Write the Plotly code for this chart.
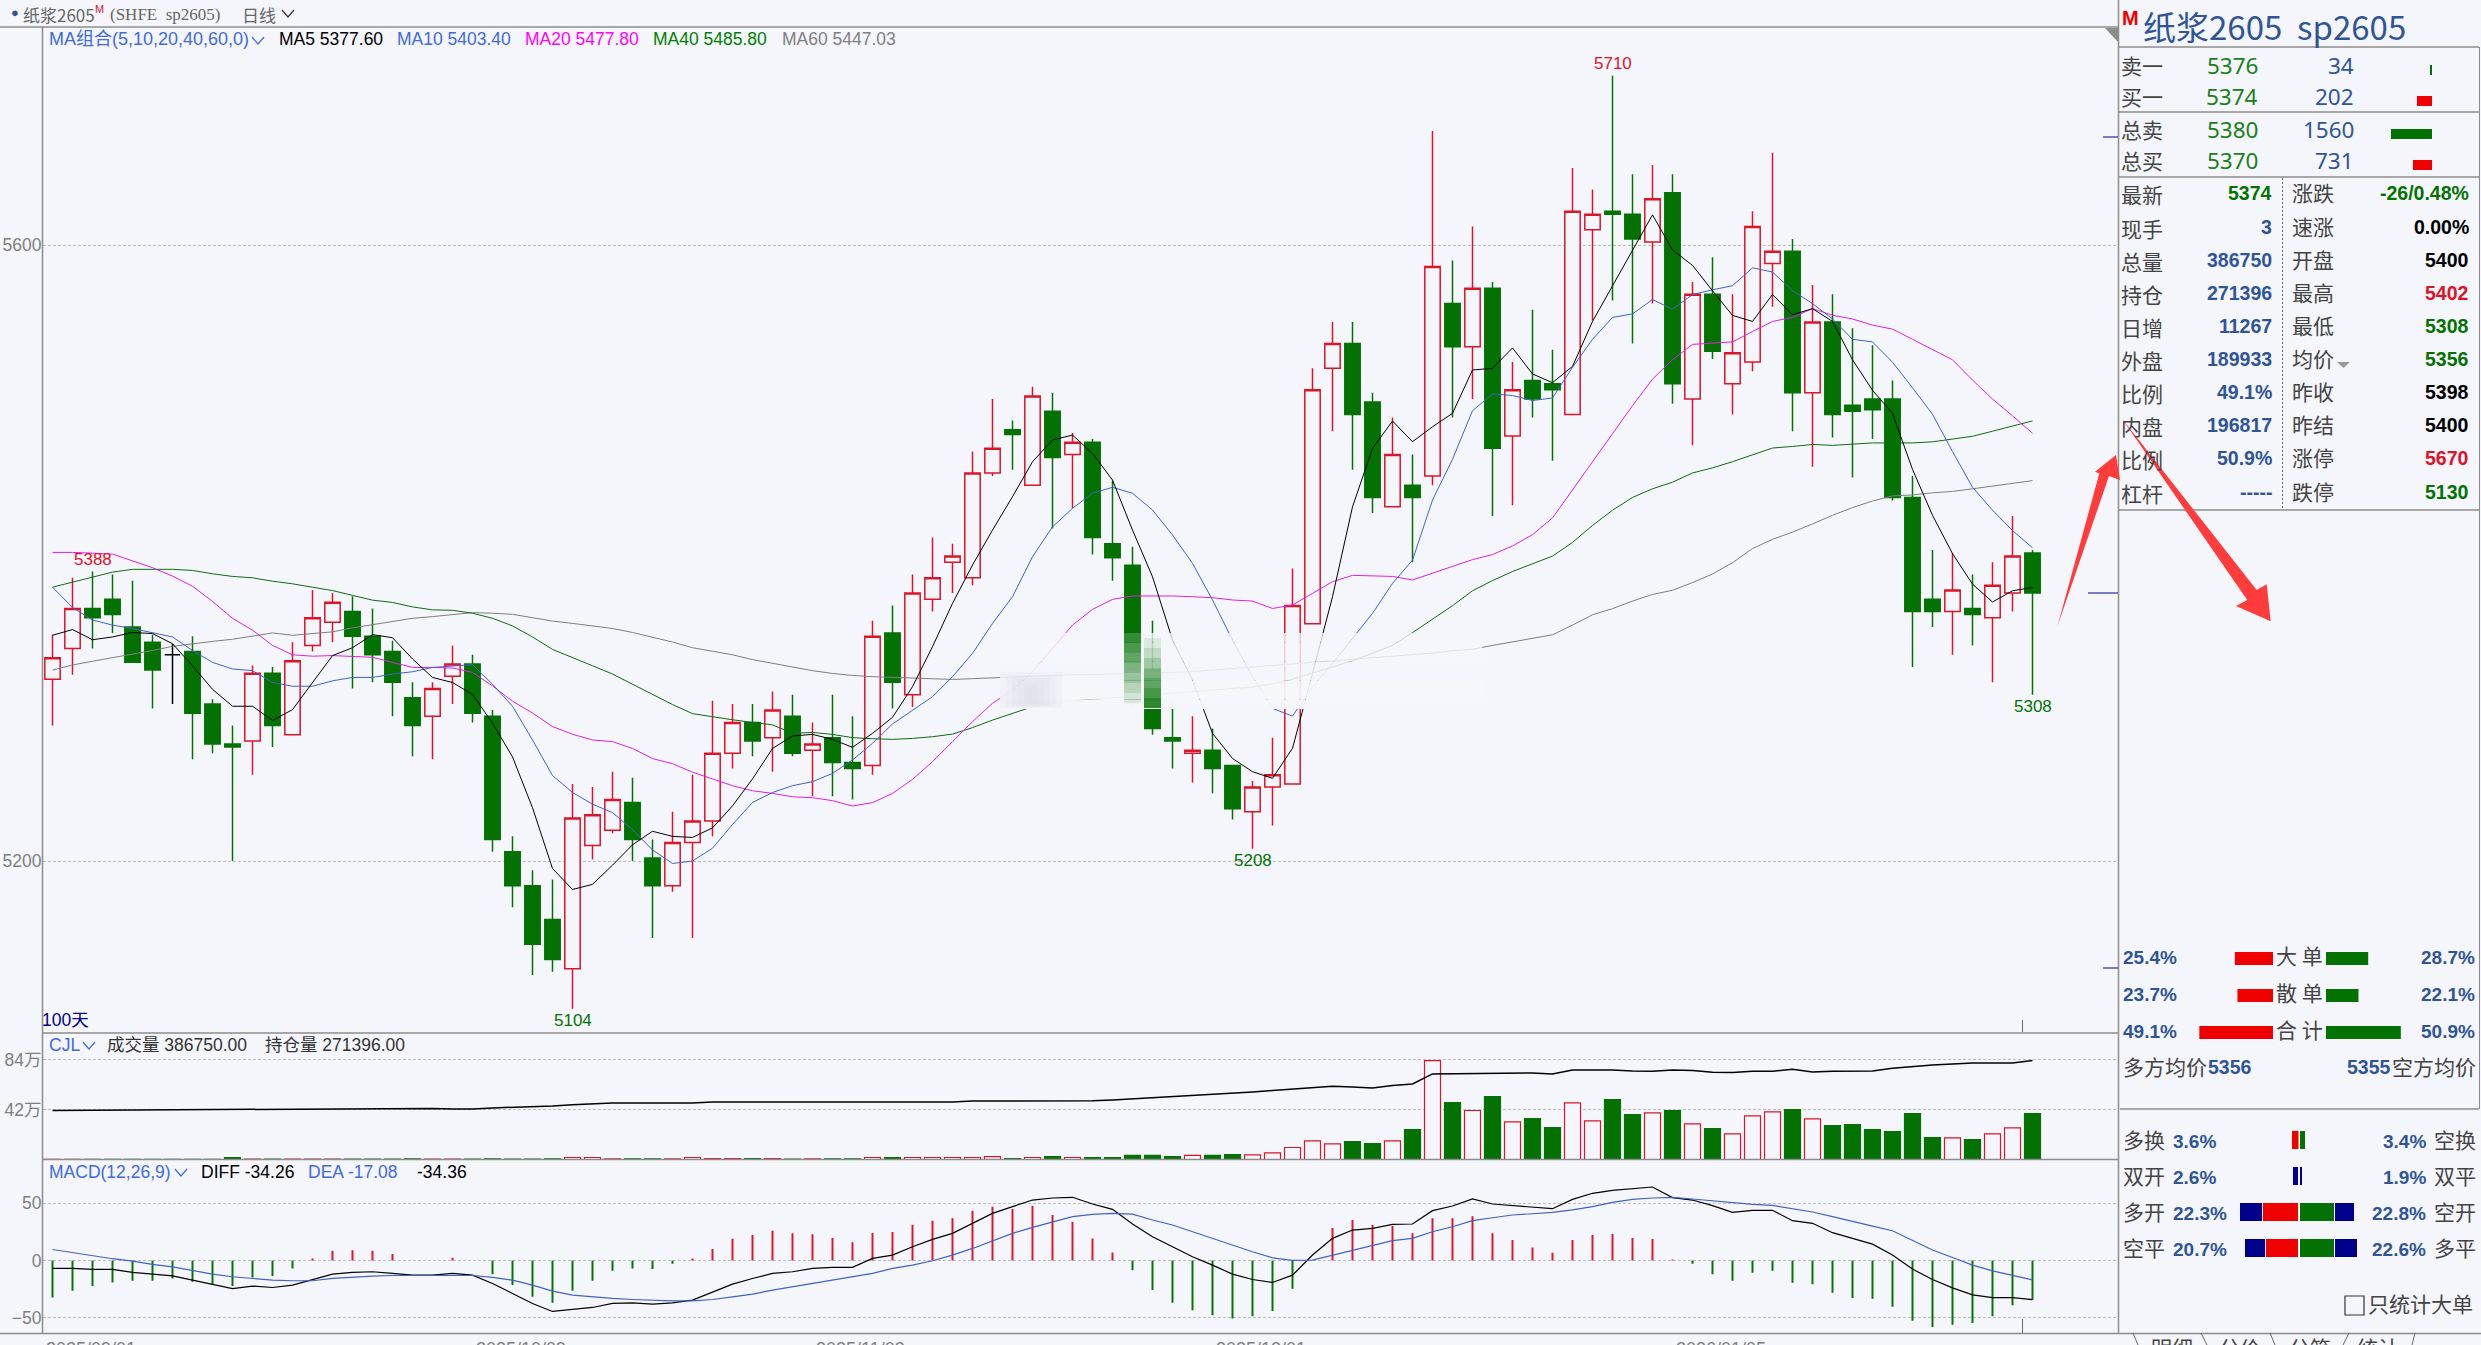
import plotly.graph_objects as go
from plotly.subplots import make_subplots

W = 2481
H = 1345
BG = "#F5F6FB"
RED = "#DC1428"
GREEN = "#037203"
BLUE = "#2F5597"
NAVY = "#00008B"
LINEGREY = "#8C8C8C"
CN = "Noto Sans CJK SC"
NUM = "Liberation Sans"

# daily bars
opens = [5318,5338,5364,5370,5352,5342,5334,5336,5302,5276,5278,5322,5282,5340,5355,5362,5346,5336,5306,5294,
         5320,5328,5294,5206,5184,5162,5130,5210,5220,5238,5202,5184,5212,5226,5270,5290,5280,5294,5272,5280,
         5264,5262,5348,5308,5370,5394,5384,5452,5480,5444,5492,5464,5472,5406,5392,5324,5280,5270,5272,5262,
         5232,5248,5250,5354,5520,5536,5498,5430,5444,5450,5562,5534,5572,5476,5512,5510,5490,5610,5622,5620,
         5602,5634,5500,5568,5510,5524,5588,5596,5504,5550,5496,5500,5500,5436,5370,5362,5364,5358,5374,5400]
highs = [5347,5384,5388,5386,5382,5347,5341,5346,5305,5288,5327,5326,5342,5376,5374,5372,5364,5343,5316,5316,
         5340,5334,5298,5216,5194,5188,5250,5248,5258,5254,5214,5232,5256,5304,5302,5302,5310,5308,5290,5308,
         5294,5356,5366,5386,5410,5406,5466,5500,5486,5508,5504,5478,5474,5447,5404,5356,5304,5294,5286,5262,
         5252,5280,5390,5520,5550,5550,5504,5488,5464,5674,5590,5612,5576,5524,5558,5532,5650,5636,5710,5646,
         5652,5646,5576,5592,5568,5622,5660,5604,5574,5568,5546,5535,5512,5450,5402,5400,5386,5394,5424,5402]
lows = [5288,5321,5338,5348,5329,5299,5302,5266,5270,5200,5256,5274,5282,5336,5342,5312,5316,5294,5268,5266,
        5302,5290,5206,5170,5126,5128,5104,5201,5218,5200,5150,5180,5150,5216,5260,5268,5258,5268,5242,5242,
        5240,5256,5299,5300,5362,5374,5379,5450,5454,5444,5416,5429,5399,5382,5300,5282,5260,5251,5244,5227,
        5208,5223,5250,5354,5479,5454,5426,5430,5394,5444,5488,5500,5424,5431,5488,5460,5490,5551,5564,5536,
        5562,5497,5470,5526,5490,5518,5560,5479,5456,5475,5449,5474,5434,5326,5352,5334,5340,5316,5362,5308]
closes = [5332,5364,5358,5360,5329,5324,5334,5296,5276,5274,5322,5288,5330,5358,5368,5346,5334,5316,5288,5312,
          5328,5296,5214,5184,5146,5136,5228,5230,5240,5214,5184,5212,5226,5270,5290,5278,5298,5270,5276,5264,
          5260,5346,5316,5374,5384,5398,5452,5468,5477,5502,5462,5472,5410,5397,5303,5286,5278,5272,5260,5234,
          5248,5256,5366,5506,5536,5490,5436,5464,5436,5586,5534,5572,5468,5506,5500,5506,5622,5620,5620,5604,
          5630,5510,5568,5531,5530,5612,5596,5504,5550,5490,5492,5493,5436,5362,5362,5376,5360,5379,5398,5374]

ma5 = [5346.6,5350.3,5343.7,5345.5,5348.4,5347.7,5341.1,5326.8,5311.5,5300.5,5300.5,5291.3,5298.3,5315.9,5333.4,5338.5,5347,5345,5331.2,5319.2,
       5315.9,5308.2,5289.5,5267.6,5234.6,5195.1,5181.5,5184.8,5197.3,5210.5,5219.3,5216,5215.3,5221.5,5235.8,5253.3,5273.1,5281.2,5282.2,5279,
       5273.8,5282.9,5293.3,5313.2,5339.2,5367.3,5392.2,5414.9,5436.6,5459.3,5473.4,5476.6,5464.7,5447.4,5414.9,5384.6,5343.5,5317.5,5282.9,5266.6,
       5258,5253.7,5273.2,5321.8,5371.6,5430,5468,5485.7,5472.3,5482,5490.7,5518.9,5519.9,5533.2,5516.3,5510.6,5521.2,5550.4,5573.6,5596.8,
       5619.6,5596.8,5586.8,5570.3,5554.3,5550.4,5567.9,5554.7,5558.7,5550.4,5525.5,5505.7,5490.7,5454.3,5424.5,5399.6,5379.8,5368.2,5375.5,5377.6]
ma10 = [5377.8,5364.6,5356.5,5353.2,5351,5348.4,5345.5,5336.7,5329,5324.7,5323.6,5315.9,5313.5,5313.5,5317,5319.2,5319.2,5321.4,5322.9,5325.7,
        5326.8,5327.5,5314.8,5300.5,5278.6,5255.5,5244.5,5236.9,5231.4,5220.4,5207.2,5198.4,5200,5208.3,5223.7,5238,5244.5,5248.9,5251.5,5256.9,
        5265.6,5276.4,5289,5298,5306.7,5319.7,5334.8,5354.3,5371.6,5397.6,5417,5429,5438.8,5442.7,5438.8,5427.9,5411.7,5393.3,5369.5,5343.5,
        5319.7,5299.1,5294.1,5313.2,5328.3,5344.6,5360.8,5380.3,5395.4,5434.4,5460.9,5492.4,5503.3,5502.3,5499,5500.7,5520.6,5538.8,5553,5555.3,
        5564.6,5558.3,5567.9,5570.9,5573.6,5585.2,5582.5,5570.3,5562,5552,5538.8,5537.1,5523.9,5507.3,5490.1,5465.9,5442.7,5427.8,5414.6,5403.4]
ma20 = [5400.4,5400.4,5399.9,5399.3,5394.9,5390.5,5385,5378.4,5368.6,5357.6,5349.9,5340,5333.9,5333,5333.4,5333,5332.3,5329,5325.7,5325.7,
        5325.3,5322.5,5313.7,5303.8,5296.1,5287.3,5282.3,5278.6,5277.5,5273.1,5266.5,5263.2,5257.7,5253.3,5248.9,5245.6,5243.9,5241.7,5241.1,5239.2,
        5235.7,5237.9,5243.9,5253,5264.5,5277.5,5290.5,5302.4,5311,5322.9,5338,5353.2,5363.4,5369.9,5372.1,5372.3,5372.1,5371.6,5371,5369.5,
        5368.8,5364,5366.2,5373.8,5381.4,5385.5,5385,5384.8,5382.5,5386.8,5391,5395.7,5399,5404.6,5411.9,5422.8,5441,5459.3,5477.5,5495.7,
        5512.9,5525.5,5535.5,5536.5,5537.1,5543.8,5550.4,5553,5558.7,5554.4,5552,5548,5545.4,5538.8,5532.2,5525.5,5512.3,5500,5489.1,5477.8]
ma40 = [5377.8,5381.1,5384.4,5387.6,5389.4,5389.4,5389.4,5388.7,5386.5,5384.8,5383.9,5381.7,5380,5377.8,5375.6,5372.5,5369.4,5367.9,5365,5363.1,
        5362.8,5360.9,5357.6,5352.7,5345.5,5337.4,5332.3,5326.8,5321.4,5314.8,5308.2,5301.6,5295.7,5293.5,5291.7,5290,5288.4,5282.9,5283.5,5282.2,
        5280.1,5279.4,5279,5279.6,5280.7,5282.4,5286.6,5291.5,5295.9,5300.2,5302,5304,5305,5306,5307,5308,5309,5310,5311,5312,
        5313,5315,5318,5322,5326,5330,5335,5340,5348.3,5356.9,5365.8,5375.5,5382.1,5388,5393,5398,5406.9,5417.9,5427.8,5436.1,
        5441.7,5446,5452,5455.3,5459.3,5463.6,5468.2,5469.2,5470.5,5469.9,5470.9,5471.5,5471.5,5471.5,5472.2,5474.2,5475.8,5479.1,5482.5,5485.8]
ma60 = [5324,5327.3,5329.7,5331.9,5334.5,5336.7,5339.4,5341.1,5342.6,5344,5345.9,5348.1,5346.6,5347.7,5348.8,5351.4,5353.6,5355.8,5357.6,5358.7,
        5360.2,5361.3,5360.9,5360.2,5358,5355.8,5354.3,5352.5,5351,5348.4,5345.5,5342.2,5338.5,5336.3,5333.9,5330.8,5328.4,5325.7,5323.6,5321.8,
        5320.5,5319.7,5319.2,5318.8,5318.4,5317.9,5318.4,5319,5319.7,5320,5320.5,5321,5321,5321.5,5321.5,5322,5322.5,5323,5324,5325,
        5326,5327,5328,5329,5330,5331,5332,5333,5334,5335,5336.5,5337.5,5340,5342.3,5344.6,5346.9,5353.2,5359.9,5363.9,5368.8,
        5373.1,5375.8,5380.8,5386.4,5393.7,5402.9,5408.9,5413.6,5418.9,5424.5,5429.5,5433.8,5437.1,5437.7,5439.1,5440,5441.7,5443.4,5445,5447]

# volume and open interest, in 万 on the left scale
volume = [0.2,0.2,0.2,0.2,0.2,0.2,0.2,0.2,0.2,1.7,0.3,0.3,0.3,0.3,0.3,0.3,0.3,0.3,0.6,0.3,
          0.3,0.3,0.6,0.3,0.3,0.6,1.7,1.7,0.6,0.6,0.6,0.6,1.7,0.8,0.8,0.8,0.8,0.3,0.6,0.6,
          0.6,1.7,1.7,1.7,1.7,1.7,1.7,2.5,0.8,1.7,2.5,1.7,1.7,1.7,3.4,3.4,2.5,3.4,3.4,4.2,
          3.9,5.6,10.1,15.7,13.2,15.1,13.4,15.7,25.2,83.2,47.9,41.2,52.9,31.6,34.4,26.9,47.6,32.5,50.4,37.8,
          39.2,41.2,30,26,21.6,36.7,40,42,34.2,28.6,29.4,25.2,23.5,38.6,18.5,18.2,16.8,21.6,26.6,38.6]
open_interest = [41.2,41.3,41.3,41.3,41.4,41.4,41.4,41.4,41.5,42.1,42.1,42.2,42.2,42.2,42.3,42.3,42.3,42.4,42.4,43,
                 42.4,42.5,43.4,43.8,44.2,45,46,47,47.6,47.6,47.6,47.6,47.6,48.4,48.4,48.4,48.4,48.4,48.4,48.4,
                 48.4,48.4,48.4,48.4,48.4,48.4,49.2,49.2,49.2,49.2,49.2,49.2,49.4,50.1,51,51.8,52.6,53.5,54.6,55.7,
                 56.8,58,59.1,60.8,61.6,61,60.2,62.2,63.6,72,72.2,72.8,72.8,72.8,72.8,72,75.3,75.3,75.3,74.5,
                 74.2,75.3,74.8,73.4,73.1,74.2,74.2,75.9,73.6,74.2,74.2,74.5,76.7,78.4,79.5,80.4,81.2,81.2,81.2,83.2]

macd_hist = [-32.5,-26.6,-22.5,-19.3,-17.8,-17.8,-15.8,-18.7,-21.6,-22.5,-14.9,-13.7,-7,0.9,8.5,9,8.5,5.6,0,0,
             2.3,0,-12,-21.6,-31.9,-37,-26.6,-17.8,-9,-7,-7.6,-2.9,1.2,10,19,22.2,26,23.7,23,19.6,
             16,24,24.9,31.3,34.8,37,43.6,47,45,47.7,39.8,33.6,19.3,7,-8.5,-26,-37,-43.6,-48,-50.9,
             -48.8,-44.4,-24.9,0,28.4,35.4,31,30.1,23.7,37,37,38.6,23.7,17.8,11.4,6.7,17.8,22.2,23.1,19.6,
             18.7,0.3,-2.9,-12,-17.8,-10.8,-9,-19.6,-20.8,-28.4,-33,-33.6,-40.6,-52.9,-58.2,-56.4,-54.7,-48.8,-39.2,-34.4]
diff = [-7,-7,-7.9,-7.9,-10.5,-12,-13.5,-17.3,-20.8,-24.6,-22.5,-23.7,-21.6,-16.7,-12,-10.5,-9.9,-11.4,-12.9,-12.9,
        -11.4,-12.9,-20.2,-28.9,-37.7,-44.7,-43,-41.2,-37.7,-37.1,-38.3,-37.1,-34.8,-27.5,-20.8,-15.8,-11.4,-9.9,-7,-6.1,
        -6.1,1.8,4.7,12,18.4,23.7,32.5,41.2,47.1,52.9,54.7,55.3,49.4,44.7,31.9,20.8,12,3.2,-4.1,-12,
        -16.7,-19.3,-12.9,4.7,19.3,26.6,28.1,31.6,31.9,43.6,47.7,53.8,49.4,48.2,46.8,45.3,53.5,58.8,61.4,62.6,
        64.3,55,52.9,48,42.1,43.9,43.9,34.8,32.5,24.3,19.3,14.3,4.7,-7.6,-16.7,-24,-30.1,-32.5,-32.5,-34.26]
dea = [9.6,6.7,3.8,1.5,-0.6,-3.5,-5.6,-9.1,-12,-14.3,-15.8,-17.3,-17.8,-17.8,-15.8,-14.6,-13.7,-13.2,-13.2,-13.2,
       -13.2,-13.2,-14.9,-17.3,-21.6,-26.9,-30.4,-31.9,-33.3,-34.2,-35.1,-35.4,-35.4,-34.2,-31.9,-29.5,-26,-23.1,-20.2,-17.3,
       -14.3,-11.4,-7,-4.1,-0.3,4.7,10.5,17.3,23.7,28.9,33.9,38.3,40.4,41.2,40.6,35.4,31,25.1,19.3,13.5,
       7.6,2.3,0,0.3,4.7,9.1,13.5,17.3,19.3,25.1,29.5,34.8,37.4,39.8,40.9,42.1,44.2,47.1,50.9,53.5,
       54.7,55.3,53.8,52.3,50.3,49.1,48.2,45.3,42.4,38.3,33.9,30.1,26,17.3,9.1,2.6,-4.1,-9.1,-12.9,-17.08]

date_idx = [-0.5, 21, 38, 58, 81]
date_labels = ["2025/09/01", "2025/10/09", "2025/11/03", "2025/12/01", "2026/01/05"]

# side panel figures
book_labels = ["卖一", "买一", "总卖", "总买"]
book_prices = ["5376", "5374", "5380", "5370"]
book_sizes = ["34", "202", "1560", "731"]
book_bars = [2, 15, 41, 19]
quote_left = [("最新", "5374"), ("现手", "3"), ("总量", "386750"), ("持仓", "271396"), ("日增", "11267"),
              ("外盘", "189933"), ("比例", "49.1%"), ("内盘", "196817"), ("比例", "50.9%"), ("杠杆", "-----")]
quote_right = [("涨跌", "-26/0.48%"), ("速涨", "0.00%"), ("开盘", "5400"), ("最高", "5402"), ("最低", "5308"),
               ("均价", "5356"), ("昨收", "5398"), ("昨结", "5400"), ("涨停", "5670"), ("跌停", "5130")]
quote_right_colors = [GREEN, "black", "black", RED, GREEN, GREEN, "black", "black", RED, GREEN]
order_labels = ["大 单", "散 单", "合 计"]
long_pct = [25.4, 23.7, 49.1]
short_pct = [28.7, 22.1, 50.9]
flow_left = [("多换", "3.6%"), ("双开", "2.6%"), ("多开", "22.3%"), ("空平", "20.7%")]
flow_right = [("空换", "3.4%"), ("双平", "1.9%"), ("空开", "22.8%"), ("多平", "22.6%")]

days = list(range(len(closes)))
up = [c > o for o, c in zip(opens, closes)]
DOJI = 6
shapes = []
notes = []


def fx(x):
    return x / W


def fy(y):
    return 1 - y / H


def text(x, y, s, color="#444444", size=18, font=NUM, anchor="left", bold=False):
    notes.append(dict(xref="paper", yref="paper", x=fx(x), y=fy(y), text="<b>%s</b>" % s if bold else s,
                      showarrow=False, xanchor=anchor, yanchor="middle", borderpad=0, borderwidth=0,
                      font=dict(color=color, size=size, family=font)))


def line(x0, y0, x1, y1, color=LINEGREY, width=1.5, dash="solid"):
    shapes.append(dict(type="line", xref="paper", yref="paper", x0=fx(x0), y0=fy(y0), x1=fx(x1), y1=fy(y1),
                       line=dict(color=color, width=width, dash=dash), layer="above"))


def box(x0, y0, x1, y1, color):
    shapes.append(dict(type="rect", xref="paper", yref="paper", x0=fx(x0), y0=fy(y0), x1=fx(x1), y1=fy(y1),
                       fillcolor=color, line=dict(width=0), layer="above"))


def poly(points, color, opacity=1):
    d = "M" + " L".join("%.5f,%.5f" % (fx(a), fy(b)) for a, b in points) + " Z"
    shapes.append(dict(type="path", xref="paper", yref="paper", path=d, fillcolor=color,
                       line=dict(width=0), layer="above", opacity=opacity))


def chevron(x, y, color="#333333"):
    d = "M%.5f,%.5f L%.5f,%.5f L%.5f,%.5f" % (fx(x), fy(y - 4), fx(x + 6), fy(y + 3), fx(x + 12), fy(y - 4))
    shapes.append(dict(type="path", xref="paper", yref="paper", path=d, line=dict(color=color, width=1.2)))


fig = make_subplots(rows=3, cols=1, shared_xaxes=True, vertical_spacing=0)

normal = [i for i in days if i != DOJI]
fig.add_trace(go.Candlestick(
    x=normal, open=[opens[i] for i in normal], high=[highs[i] for i in normal],
    low=[lows[i] for i in normal], close=[closes[i] for i in normal], whiskerwidth=0,
    increasing=dict(line=dict(color=RED, width=1.5), fillcolor=BG),
    decreasing=dict(line=dict(color=GREEN, width=1.5), fillcolor=GREEN)), row=1, col=1)
fig.add_trace(go.Candlestick(
    x=[DOJI], open=[opens[DOJI]], high=[highs[DOJI]], low=[lows[DOJI]], close=[closes[DOJI]], whiskerwidth=0,
    increasing=dict(line=dict(color="black", width=1.5), fillcolor="black"),
    decreasing=dict(line=dict(color="black", width=1.5), fillcolor="black")), row=1, col=1)

for vals, col in [(ma60, "#7F7F7F"), (ma40, "#0E6B0E"), (ma20, "#E01FE0"), (ma10, "#3F62C8"), (ma5, "#000000")]:
    fig.add_trace(go.Scatter(x=days, y=vals, mode="lines", line=dict(color=col, width=1)), row=1, col=1)

fig.add_trace(go.Bar(x=days, y=volume, width=0.8,
                     marker=dict(color=[BG if u else GREEN for u in up],
                                 line=dict(color=[RED if u else GREEN for u in up], width=1.2))), row=2, col=1)
fig.add_trace(go.Scatter(x=days, y=open_interest, mode="lines", line=dict(color="black", width=1.5)), row=2, col=1)

fig.add_trace(go.Bar(x=days, y=macd_hist, width=0.05,
                     marker=dict(color=[RED if v > 0 else GREEN for v in macd_hist], opacity=0.99, line=dict(width=0))), row=3, col=1)
fig.add_trace(go.Scatter(x=days, y=diff, mode="lines", line=dict(color="black", width=1.2)), row=3, col=1)
fig.add_trace(go.Scatter(x=days, y=dea, mode="lines", line=dict(color="#3F62C8", width=1.2)), row=3, col=1)

# watermark smear over the middle of the price pane
for k in range(8):
    box(1000, 633 + k * 9.5, 1482, 633 + (k + 1) * 9.5, "rgba(245,246,251,%.2f)" % (0.78 + k * 0.027))
for k in range(6):
    box(1000 + k * 6, 672 + k * 3, 1062 - k * 6, 708 - k, "rgba(205,205,210,0.09)")
for k in range(7):
    box(1124, 633 + k * 10, 1141, 633 + (k + 1) * 10, "rgba(3,114,3,%.2f)" % (0.75 - k * 0.11))
    box(1144, 638 + k * 10, 1161, 638 + (k + 1) * 10, "rgba(3,114,3,%.2f)" % (0.1 + k * 0.12))

# frames
line(0, 27, 2118, 27)
line(42.5, 27, 42.5, 1333)
line(2118.5, 0, 2118.5, 1333)
line(42, 1033, 2118, 1033)
line(42, 1159.5, 2118, 1159.5)
line(0, 1333.5, W, 1333.5)
line(2119, 47, 2479, 47)
line(2119, 112, 2479, 112)
line(2119, 177, 2479, 177)
line(2119, 510, 2479, 510)
line(2120, 1109, 2479, 1109)
line(2479.5, 47, 2479.5, 1109, width=1)
line(2282.5, 178, 2282.5, 510, color="#666666", width=1, dash="2px,2px")
poly([(2105, 28), (2118, 28), (2118, 42)], "#8C8C8C")
line(2103, 137, 2118, 137, color=NAVY, width=1)
line(2088, 593, 2118, 593, color=NAVY, width=1)
line(2103, 968, 2118, 968, color=NAVY, width=1)
line(2022.5, 1020, 2022.5, 1032, color="#666666", width=1)
line(2022.5, 1319, 2022.5, 1333, color="#666666", width=1)

# header and legends
text(11, 13, "●", color=BLUE, size=13)
text(23, 14, "纸浆2605", color="#666666", size=17, font=CN)
text(95, 9, "M", color=RED, size=11)
text(110, 14, "(SHFE&nbsp;&nbsp;sp2605)", color="#666666", size=17, font="Liberation Serif")
text(242, 14, "日线", color="#666666", size=17, font=CN)
chevron(282, 14)

text(49, 39.5, "MA组合(5,10,20,40,60,0)", color="#4169E1", size=18, font=NUM + "," + CN)
chevron(252, 41, "#4169E1")
for x, s, col in [(279, "MA5 5377.60", "#000000"), (397, "MA10 5403.40", "#4169E1"), (525, "MA20 5477.80", "#FF00FF"),
                  (653, "MA40 5485.80", "#008000"), (782, "MA60 5447.03", "#808080")]:
    text(x, 39.5, s, color=col, size=17.5)

text(49, 1045, "CJL", color="#4169E1", size=17.5)
chevron(83, 1046, "#4169E1")
text(107, 1045, "成交量 386750.00", color="#333333", size=17.5, font=NUM + "," + CN)
text(265, 1045, "持仓量 271396.00", color="#333333", size=17.5, font=NUM + "," + CN)
text(49, 1171.5, "MACD(12,26,9)", color="#4169E1", size=17.5)
chevron(175, 1173, "#4169E1")
text(201, 1171.5, "DIFF -34.26", color="#000000", size=17.5)
text(308, 1171.5, "DEA -17.08", color="#4169E1", size=17.5)
text(417, 1171.5, "-34.36", color="#000000", size=17.5)
text(42, 1019.5, "100天", color=NAVY, size=17.5, font=NUM + "," + CN)

# price extremes labelled on the candles
for idx, val, col, shift in [(2, 5388, RED, 12), (78, 5710, RED, 12), (26, 5104, GREEN, -12), (60, 5208, GREEN, -12), (99, 5308, GREEN, -12)]:
    notes.append(dict(xref="x", yref="y", x=idx, y=val, text=str(val), showarrow=False, yshift=shift,
                      font=dict(color=col, size=17, family=NUM)))

for idx, lab in zip(date_idx, date_labels):
    notes.append(dict(xref="x3", yref="paper", x=idx, y=fy(1338), text=lab, showarrow=False, xanchor="left", yanchor="top",
                      xshift=2, borderpad=0, font=dict(color="#7F7F7F", size=18, family=NUM)))

# side panel
text(2122, 18, "<b>M</b>", color="#F00000", size=20)
text(2143, 26, "纸浆2605&nbsp;&nbsp;sp2605", color=BLUE, size=33, font=CN)
for i, lab in enumerate(book_labels):
    y = [65, 96, 129, 160][i]
    text(2121, y, lab, size=21, font=CN)
    text(2258, y + 1, book_prices[i], color="#1A801A", size=22.5, font="Noto Sans", anchor="right")
    text(2354, y + 1, book_sizes[i], color=BLUE, size=22.5, font="Noto Sans", anchor="right")
    box(2432 - book_bars[i], y + 0, 2432, y + 10, GREEN if i in (0, 2) else "#F00000")

rows = [193, 227, 260, 293, 326, 359, 392, 425, 458, 492]
for i, y in enumerate(rows):
    text(2121, y + 1, quote_left[i][0], size=21, font=CN)
    text(2271.5, y, quote_left[i][1], color=GREEN if i == 0 else BLUE, size=19.5, anchor="right", bold=True)
    text(2292, y - 1, quote_right[i][0], size=21, font=CN)
    text(2469, y, quote_right[i][1], color=quote_right_colors[i], size=19.5, anchor="right", bold=True)
poly([(2337, 362), (2350, 362), (2343.5, 368)], "#999999")

for i, y in enumerate([957, 994, 1031]):
    text(2123, y, "%.1f%%" % long_pct[i], color=BLUE, size=19, bold=True)
    text(2475, y, "%.1f%%" % short_pct[i], color=BLUE, size=19, anchor="right", bold=True)
    text(2299, y - 2, order_labels[i], size=21, font=CN, anchor="center")
    box(2273 - long_pct[i] * 1.5, y - 5, 2273, y + 8, "#F00000")
    box(2326, y - 5, 2326 + short_pct[i] * 1.47, y + 8, GREEN)
text(2123, 1066, "多方均价", size=21, font=CN)
text(2208, 1067, "5356", color=BLUE, size=19.5, bold=True)
text(2391, 1067, "5355", color=BLUE, size=19.5, anchor="right", bold=True)
text(2392, 1066, "空方均价", size=21, font=CN)

for i, y in enumerate([1139, 1175, 1211, 1247]):
    text(2123, y, flow_left[i][0], size=21, font=CN)
    text(2173, y + 2, flow_left[i][1], color=BLUE, size=19, bold=True)
    text(2426, y + 2, flow_right[i][1], color=BLUE, size=19, anchor="right", bold=True)
    text(2434, y, flow_right[i][0], size=21, font=CN)

box(2292, 1131, 2298.5, 1149, "#F00000")
box(2300, 1131, 2305, 1149, GREEN)
box(2293, 1167, 2298, 1185, NAVY)
box(2300, 1167, 2302, 1185, NAVY)
for y0, segs in [(1203, [(2240, 2262, NAVY), (2263, 2298, "#F00000"), (2300, 2334, GREEN), (2335, 2354, NAVY)]),
                 (1239, [(2245, 2265, NAVY), (2266, 2298, "#F00000"), (2300, 2334, GREEN), (2335, 2357, NAVY)])]:
    for a, b, col in segs:
        box(a, y0, b, y0 + 18, col)
shapes.append(dict(type="rect", xref="paper", yref="paper", x0=fx(2345), y0=fy(1296), x1=fx(2364), y1=fy(1315),
                   line=dict(color="#333333", width=1.2)))
text(2368, 1303, "只统计大单", size=21, font=CN)

for x, lab in [(2172, "明细"), (2240, "分价"), (2310, "分笔"), (2378, "统计")]:
    text(x, 1347, lab, size=21, font=CN, anchor="center")
for x0, x1 in [(2133, 2138), (2201, 2207), (2270, 2275), (2349, 2343), (2415, 2412)]:
    line(x0, 1333, x1, 1345, color="#666666", width=1)

# the two red arrows drawn over the screenshot
poly([(2057.3, 626.7), (2099.3, 473.5), (2095, 471.7), (2116, 455), (2120, 480), (2109, 476)], "#FF3B3B")
poly([(2121.7, 418.3), (2256.7, 590), (2266.7, 584.3), (2270.7, 621.3), (2236, 606), (2247.3, 600)], "#FF3B3B")

axis_font = dict(color="#7F7F7F", size=17.5, family=NUM + "," + CN)
grid = dict(showgrid=True, gridcolor="#BDBDBD", gridwidth=1, griddash="3px,2px", zeroline=False, showline=False,
            ticks="", tickfont=axis_font)
fig.update_layout(
    width=W, height=H, paper_bgcolor=BG, plot_bgcolor=BG, showlegend=False, boxmode="overlay", boxgap=0.23, boxgroupgap=0,
    margin=dict(l=0, r=0, t=0, b=0), shapes=shapes, annotations=notes, hovermode=False,
    xaxis=dict(domain=[fx(42.5), fx(2118.5)], range=[-0.5, 103.3], showgrid=False, showticklabels=False,
               zeroline=False, rangeslider=dict(visible=False)),
    xaxis2=dict(domain=[fx(42.5), fx(2118.5)], range=[-0.5, 103.3], showgrid=False, showticklabels=False, zeroline=False),
    xaxis3=dict(domain=[fx(42.5), fx(2118.5)], range=[-0.5, 103.3], showgrid=False, showticklabels=False, zeroline=False),
    yaxis=dict(domain=[fy(1033), fy(27)], range=[5088.3, 5741.6], tickvals=[5200, 5600], **grid),
    yaxis2=dict(domain=[fy(1159.5), fy(1033)], range=[0, 106.4], tickvals=[42, 84], ticktext=["42万", "84万"], **grid),
    yaxis3=dict(domain=[fy(1333.5), fy(1159.5)], range=[-64, 88.4], tickvals=[-50, 0, 50], **grid),
)

fig.write_html("out.html", config={"displayModeBar": False},
               post_script="document.body.style.margin='0';document.body.style.overflow='hidden';")
